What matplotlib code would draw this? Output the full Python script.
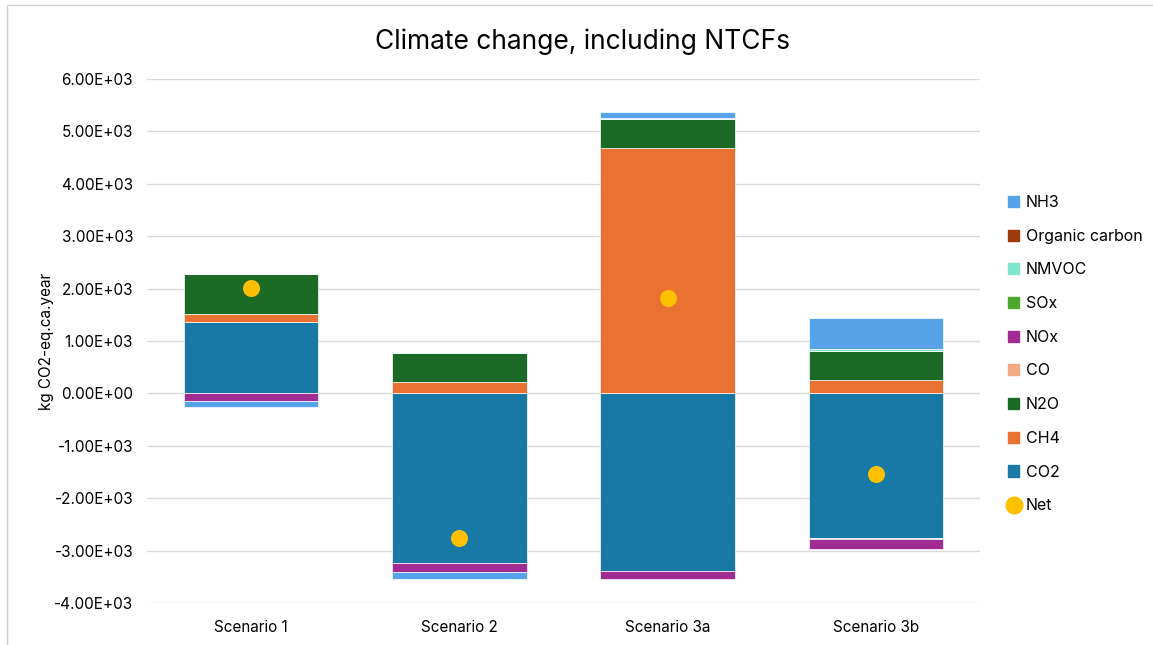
import numpy as np
import matplotlib
matplotlib.use("Agg")
import matplotlib.pyplot as plt
from matplotlib.patches import Rectangle
from matplotlib.lines import Line2D
from matplotlib.patches import Patch

plt.rcParams['font.family'] = ['Inter', 'DejaVu Sans']

scenarios = ["Scenario 1", "Scenario 2", "Scenario 3a", "Scenario 3b"]

# Contributions per substance, kg CO2-eq.ca.year
co2 = [1370, -3240, -3390, -2760]
ch4 = [140, 210, 4680, 250]
n2o = [760, 555, 550, 550]
co = [0, 15, 0, -10]
nox = [-140, -170, -160, -190]
sox = [0, 0, 0, 0]
nmvoc = [10, 15, 30, 40]
organic_carbon = [0, 0, 0, 0]
nh3 = [-126, -140, 120, 590]

series_names = ["CO2", "CH4", "N2O", "CO", "NOx", "SOx", "NMVOC", "Organic carbon", "NH3"]
series_values = [co2, ch4, n2o, co, nox, sox, nmvoc, organic_carbon, nh3]
series_colors = ["#1878A6", "#E97132", "#1B6B26", "#F1A983", "#A02B93",
                 "#4EA72E", "#7FE5CD", "#9C3C0E", "#56A3E9"]

yticks = [-4000, -3000, -2000, -1000, 0, 1000, 2000, 3000, 4000, 5000, 6000]
ytick_labels = ["-4.00E+03", "-3.00E+03", "-2.00E+03", "-1.00E+03", "0.00E+00",
                "1.00E+03", "2.00E+03", "3.00E+03", "4.00E+03", "5.00E+03", "6.00E+03"]

fig = plt.figure(figsize=(11.53, 6.45), dpi=100)
ax = fig.add_axes([0.1275, 0.0651, 0.7225, 0.8124])

x = np.arange(len(scenarios))
width = 0.645
pos_base = np.zeros(len(scenarios))
neg_base = np.zeros(len(scenarios))
handles = []
for name, vals, col in zip(series_names, series_values, series_colors):
    v = np.array(vals, dtype=float)
    bottoms = np.where(v >= 0, pos_base, neg_base)
    ax.bar(x, v, width, bottom=bottoms, color=col, edgecolor="white",
           linewidth=0.5, zorder=2)
    pos_base = pos_base + np.where(v > 0, v, 0)
    neg_base = neg_base + np.where(v < 0, v, 0)
    handles.append(Patch(facecolor=col, edgecolor=col, label=name))

net = pos_base + neg_base
ax.scatter(x, net, s=150, color="#FFC000", zorder=3, linewidths=0)

ax.set_xlim(-0.5, 3.5)
ax.set_ylim(-4000, 6000)
ax.set_yticks(yticks)
ax.set_yticklabels(ytick_labels)
ax.set_xticks(x)
ax.set_xticklabels(scenarios)
ax.tick_params(axis="both", length=0, labelsize=11, colors="#000000")
ax.tick_params(axis="y", pad=10)
ax.tick_params(axis="x", pad=12)
ax.grid(axis="y", color="#D9D9D9", linewidth=1.0, zorder=0)
ax.set_axisbelow(True)
for s in ax.spines.values():
    s.set_visible(False)

ax.set_ylabel("kg CO2-eq.ca.year", fontsize=11, labelpad=10)
ax.yaxis.set_label_coords(-0.112, 0.5)

fig.text(0.505, 0.935, "Climate change, including NTCFs", fontsize=19,
         ha="center", va="center")

legend_handles = handles[::-1] + [Line2D([], [], marker="o", linestyle="none",
                                         markerfacecolor="#FFC000",
                                         markeredgecolor="#FFC000",
                                         markersize=12, label="Net")]
leg = fig.legend(handles=legend_handles, loc="center left",
                 bbox_to_anchor=(0.862, 0.451), frameon=False, fontsize=11.5,
                 handlelength=0.7, handleheight=0.7, handletextpad=0.4,
                 labelspacing=1.17)

# Outer frame of the chart area
fig.add_artist(Rectangle((7 / 1153, -0.1), 1.2, 1 - 5 / 645 + 0.1,
                         transform=fig.transFigure, fill=False,
                         edgecolor="#D0D0D0", linewidth=1.0))

fig.savefig("out.png", dpi=100, facecolor="white")
